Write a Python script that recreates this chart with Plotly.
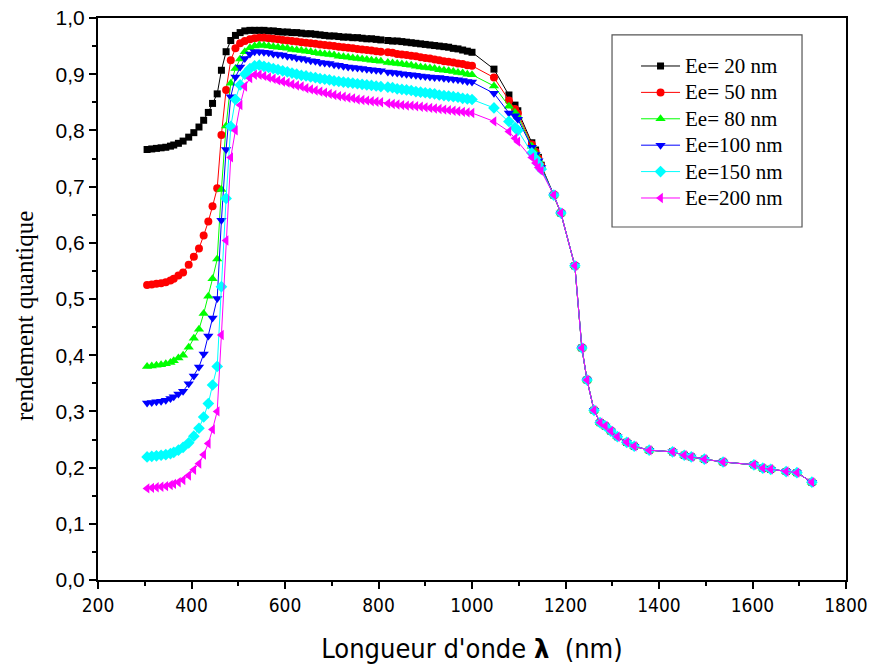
import plotly.graph_objects as go

# Wavelength grid (nm)
wavelength = [
    305, 315, 325, 335, 345, 355, 362, 372, 382, 394, 405, 416, 426, 436, 445, 455,
    464, 474, 484, 494, 504, 514, 525, 535,
    545, 555, 565, 575, 585, 595, 605, 615, 625, 635, 645, 655, 665, 675, 685, 695,
    705, 715, 725, 735, 745, 755, 765, 775, 785, 795, 805,
    820, 830, 840, 850, 860, 870, 880, 890, 900, 910, 920, 930, 940, 950, 960, 970,
    980, 990, 1000,
    1047, 1079, 1092, 1098, 1128, 1136, 1142, 1148,
    1175, 1190, 1220, 1235, 1246, 1261, 1274, 1285, 1297, 1311, 1331, 1347, 1379,
    1429, 1454, 1469, 1497, 1537, 1603, 1622, 1639, 1672, 1695, 1727,
]

tail = [0.685, 0.653, 0.559, 0.413, 0.356, 0.302, 0.280, 0.274, 0.265, 0.255, 0.245,
        0.238, 0.231, 0.228, 0.222, 0.219, 0.215, 0.210, 0.205, 0.199, 0.197, 0.193,
        0.191, 0.174]

ee20 = [
    0.766, 0.767, 0.768, 0.769, 0.770, 0.772, 0.774, 0.777, 0.781, 0.788, 0.796, 0.806,
    0.818, 0.832, 0.848, 0.865, 0.907, 0.940, 0.960, 0.969, 0.974, 0.977, 0.978, 0.978,
    0.978, 0.978, 0.977, 0.977, 0.976, 0.975, 0.975, 0.974, 0.974, 0.973, 0.972, 0.972,
    0.971, 0.970, 0.969, 0.968, 0.968, 0.967, 0.966, 0.966, 0.965, 0.965, 0.964, 0.963,
    0.963, 0.962, 0.961,
    0.960, 0.959, 0.959, 0.958, 0.957, 0.956, 0.955, 0.954, 0.953, 0.952, 0.951, 0.950,
    0.949, 0.948, 0.946, 0.945, 0.943, 0.941, 0.939,
    0.909, 0.863, 0.845, 0.835, 0.778, 0.765, 0.752, 0.738,
] + tail

ee50 = [
    0.525, 0.526, 0.527, 0.528, 0.530, 0.533, 0.536, 0.542, 0.547, 0.561, 0.575, 0.590,
    0.613, 0.638, 0.665, 0.697, 0.792, 0.872, 0.925, 0.946, 0.955, 0.959, 0.962, 0.964,
    0.965, 0.965, 0.964, 0.963, 0.962, 0.961, 0.960, 0.959, 0.958, 0.957, 0.956, 0.955,
    0.954, 0.953, 0.952, 0.951, 0.950, 0.949, 0.948, 0.947, 0.946, 0.945, 0.944, 0.943,
    0.942, 0.941, 0.940,
    0.939, 0.938, 0.936, 0.935, 0.934, 0.933, 0.932, 0.930, 0.929, 0.928, 0.926, 0.925,
    0.923, 0.922, 0.921, 0.919, 0.918, 0.916, 0.915,
    0.894, 0.853, 0.838, 0.830, 0.775, 0.762, 0.750, 0.737,
] + tail

ee80 = [
    0.380, 0.381, 0.382, 0.383, 0.385, 0.387, 0.390, 0.395, 0.400, 0.414, 0.430, 0.446,
    0.474, 0.505, 0.536, 0.571, 0.695, 0.808, 0.884, 0.910, 0.927, 0.940, 0.947, 0.950,
    0.952, 0.951, 0.950, 0.949, 0.948, 0.947, 0.946, 0.944, 0.943, 0.942, 0.941, 0.940,
    0.938, 0.937, 0.936, 0.935, 0.934, 0.932, 0.931, 0.930, 0.929, 0.928, 0.927, 0.926,
    0.925, 0.924, 0.923,
    0.921, 0.920, 0.919, 0.918, 0.917, 0.916, 0.914, 0.913, 0.912, 0.911, 0.910, 0.908,
    0.907, 0.906, 0.905, 0.903, 0.902, 0.900, 0.899,
    0.879, 0.843, 0.832, 0.825, 0.772, 0.760, 0.748, 0.736,
] + tail

ee100 = [
    0.315, 0.316, 0.317, 0.318, 0.320, 0.323, 0.326, 0.331, 0.336, 0.349, 0.363, 0.379,
    0.402, 0.434, 0.466, 0.501, 0.640, 0.766, 0.860, 0.895, 0.913, 0.928, 0.936, 0.940,
    0.940, 0.939, 0.938, 0.936, 0.935, 0.934, 0.932, 0.931, 0.929, 0.928, 0.926, 0.924,
    0.923, 0.921, 0.920, 0.919, 0.917, 0.916, 0.914, 0.913, 0.912, 0.911, 0.910, 0.909,
    0.908, 0.907, 0.906,
    0.904, 0.903, 0.902, 0.901, 0.900, 0.899, 0.898, 0.897, 0.896, 0.895, 0.894, 0.894,
    0.893, 0.892, 0.891, 0.890, 0.889, 0.887, 0.886,
    0.866, 0.831, 0.826, 0.820, 0.770, 0.757, 0.746, 0.734,
] + tail

ee150 = [
    0.219, 0.220, 0.221, 0.222, 0.223, 0.225, 0.227, 0.231, 0.236, 0.244, 0.256, 0.270,
    0.290, 0.314, 0.347, 0.380, 0.522, 0.679, 0.807, 0.855, 0.881, 0.900, 0.910, 0.915,
    0.916, 0.914, 0.912, 0.910, 0.908, 0.906, 0.904, 0.902, 0.900, 0.898, 0.897, 0.895,
    0.894, 0.892, 0.891, 0.890, 0.888, 0.887, 0.886, 0.885, 0.884, 0.883, 0.882, 0.881,
    0.880, 0.879, 0.878,
    0.877, 0.876, 0.874, 0.873, 0.872, 0.871, 0.869, 0.868, 0.867, 0.866, 0.865, 0.863,
    0.862, 0.861, 0.860, 0.859, 0.857, 0.856, 0.855,
    0.840, 0.816, 0.805, 0.800, 0.760, 0.750, 0.740, 0.731,
] + tail

ee200 = [
    0.163, 0.164, 0.165, 0.166, 0.167, 0.169, 0.171, 0.174, 0.178, 0.186, 0.196, 0.207,
    0.223, 0.243, 0.268, 0.300, 0.436, 0.604, 0.752, 0.800, 0.845, 0.878, 0.893, 0.899,
    0.899, 0.897, 0.894, 0.892, 0.889, 0.887, 0.885, 0.882, 0.880, 0.878, 0.875, 0.873,
    0.871, 0.869, 0.867, 0.865, 0.863, 0.861, 0.860, 0.858, 0.857, 0.855, 0.854, 0.853,
    0.852, 0.851, 0.850,
    0.848, 0.847, 0.846, 0.845, 0.844, 0.844, 0.843, 0.842, 0.841, 0.840, 0.839, 0.838,
    0.837, 0.836, 0.835, 0.834, 0.833, 0.832, 0.831,
    0.816, 0.798, 0.786, 0.780, 0.752, 0.742, 0.734, 0.728,
] + tail

series_names = ["Ee= 20 nm", "Ee= 50 nm", "Ee= 80 nm", "Ee=100 nm", "Ee=150 nm", "Ee=200 nm"]
series_values = [ee20, ee50, ee80, ee100, ee150, ee200]
colors = ["#000000", "#ff0000", "#00ff00", "#0000ff", "#00ffff", "#ff00ff"]
symbols = ["square", "circle", "triangle-up", "triangle-down", "diamond", "triangle-left"]
sizes = [7, 8, 9, 9, 9, 9]

x_ticks = [200, 400, 600, 800, 1000, 1200, 1400, 1600, 1800]

fig = go.Figure()
for name, vals, col, sym, sz in zip(series_names, series_values, colors, symbols, sizes):
    fig.add_trace(go.Scatter(
        x=wavelength, y=vals, mode="lines+markers",
        name='<span style="font-size:21px">' + name + '</span>',
        line=dict(color=col, width=1),
        marker=dict(symbol=sym, size=sz, color=col, line=dict(width=0)),
    ))

axis_common = dict(
    showline=True, linecolor="black", linewidth=2, mirror=True,
    ticks="outside", tickcolor="black", tickwidth=1.5, ticklen=7,
    showgrid=False, zeroline=False, automargin=False,
)

fig.update_layout(
    width=869, height=664,
    margin=dict(l=98, r=23, t=18, b=84),
    paper_bgcolor="white", plot_bgcolor="white",
    separators=", ",
    xaxis=dict(
        range=[200, 1800], tickvals=x_ticks,
        tickfont=dict(family="DejaVu Sans Condensed, Liberation Sans, Arial, sans-serif", size=19, color="black"),
        ticklabeloverflow="allow",
        minor=dict(dtick=100, ticks="outside", ticklen=4, tickcolor="black", tickwidth=1.5),
        title=dict(text="Longueur d'onde <b>λ</b>  (nm)",
                   font=dict(family="DejaVu Sans Condensed, Liberation Sans, Arial, sans-serif", size=27, color="black"),
                   standoff=25),
        **axis_common,
    ),
    yaxis=dict(
        range=[0, 1.0], dtick=0.1, tickformat=".1f",
        tickfont=dict(family="Liberation Sans, Arial, sans-serif", size=21, color="black"),
        minor=dict(dtick=0.05, ticks="outside", ticklen=4, tickcolor="black", tickwidth=1.5),
        **axis_common,
    ),
    legend=dict(
        x=0.7193, y=0.947, xanchor="left", yanchor="top",
        bgcolor="rgba(0,0,0,0)", borderwidth=0,
        font=dict(family="Liberation Serif, Times New Roman, serif", size=18, color="black"),
        itemwidth=39, tracegroupgap=0,
    ),
    shapes=[dict(type="rect", xref="paper", yref="paper",
                 x0=0.6872, x1=0.9412, y0=0.6281, y1=0.9698,
                 line=dict(color="#555555", width=1.2), fillcolor="rgba(0,0,0,0)")],
    annotations=[dict(text="rendement quantique", textangle=-90,
                      xref="paper", yref="paper", x=-0.0976, y=0.4698,
                      xanchor="center", yanchor="middle", showarrow=False,
                      font=dict(family="Liberation Serif, Times New Roman, serif", size=25, color="black"))],
    showlegend=True,
)

fig.write_html("out.html")
